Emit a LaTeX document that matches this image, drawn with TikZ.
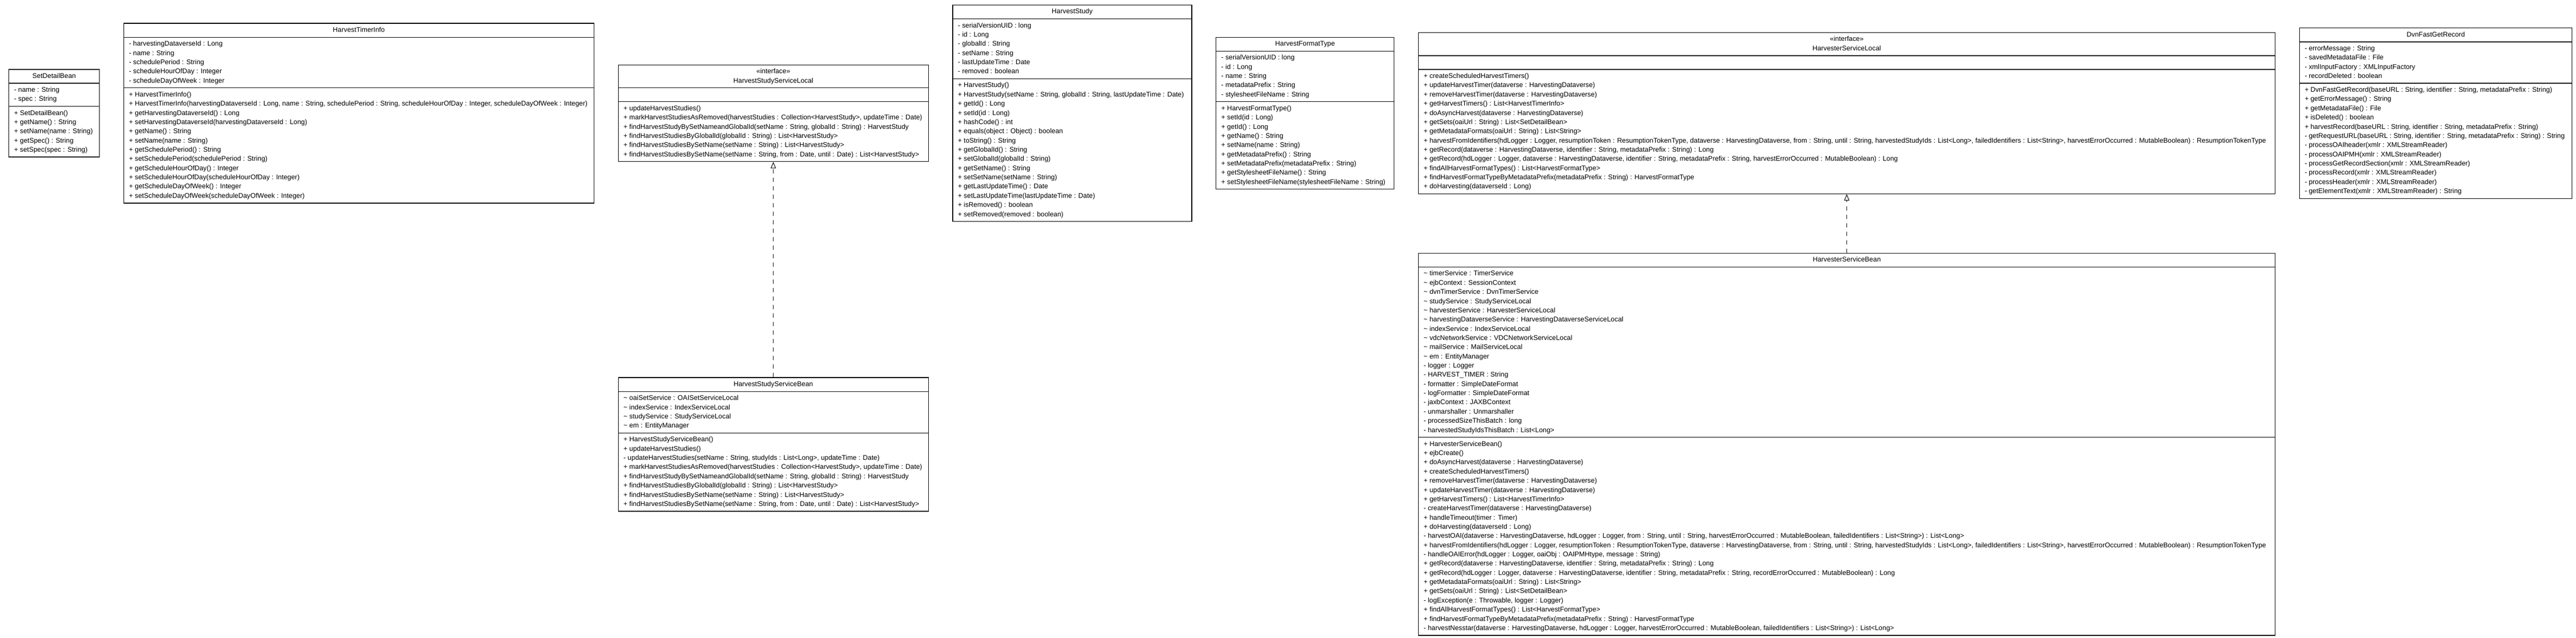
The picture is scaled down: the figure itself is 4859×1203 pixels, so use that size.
\documentclass[tikz,border=0pt]{standalone}
\usepackage{fontspec}
\setmainfont{Liberation Sans}
\usepackage{tikz}
\usetikzlibrary{shapes.multipart,arrows.meta,positioning}

\newcommand{\umltitle}[1]{\begin{tabular}{@{}c@{}}#1\end{tabular}}
\newcommand{\umlrows}[1]{\begin{tabular}{@{}l@{}}#1\end{tabular}}

\begin{document}
\begin{tikzpicture}[
    x=0.2mm, y=-0.2mm,
    node distance=8.9mm,
    umlclass/.style={rectangle split, rectangle split parts=3, rectangle split part align={center,left,left}, draw=black, line width=0.25mm, fill=white, inner xsep=2mm, inner ysep=0.75mm, font=\fontsize{7.3}{9.88}\selectfont},
    realize/.style={draw, line width=0.2mm, dash pattern=on 1.6mm off 1.6mm, -{Triangle[open, length=2.4mm, width=2mm]}}
]
\path[fill=white, use as bounding box] (0,0) rectangle (4859,1203);

% SetDetailBean
\node [umlclass, minimum width=34.2mm, anchor=west] (setdetail) at (16,213.5) {\umltitle{SetDetailBean}
\nodepart{second}\umlrows{- name : String\\- spec : String}
\nodepart{third}\umlrows{+ SetDetailBean()\\+ getName() : String\\+ setName(name : String)\\+ getSpec() : String\\+ setSpec(spec : String)}};

% HarvestTimerInfo
\node [umlclass, minimum width=177.4mm, right=of setdetail] (timerinfo) {\umltitle{HarvestTimerInfo}
\nodepart{second}\umlrows{- harvestingDataverseId : Long\\- name : String\\- schedulePeriod : String\\- scheduleHourOfDay : Integer\\- scheduleDayOfWeek : Integer}
\nodepart{third}\umlrows{+ HarvestTimerInfo()\\
+ HarvestTimerInfo(harvestingDataverseId : Long, name : String, schedulePeriod : String, scheduleHourOfDay : Integer, scheduleDayOfWeek : Integer)\\
+ getHarvestingDataverseId() : Long\\
+ setHarvestingDataverseId(harvestingDataverseId : Long)\\
+ getName() : String\\
+ setName(name : String)\\
+ getSchedulePeriod() : String\\
+ setSchedulePeriod(schedulePeriod : String)\\
+ getScheduleHourOfDay() : Integer\\
+ setScheduleHourOfDay(scheduleHourOfDay : Integer)\\
+ getScheduleDayOfWeek() : Integer\\
+ setScheduleDayOfWeek(scheduleDayOfWeek : Integer)}};

% HarvestStudyServiceLocal
\node [umlclass, minimum width=117mm, right=of timerinfo] (studylocal) {\umltitle{«interface»\\HarvestStudyServiceLocal}
\nodepart{second}\strut
\nodepart{third}\umlrows{+ updateHarvestStudies()\\
+ markHarvestStudiesAsRemoved(harvestStudies : Collection<HarvestStudy>, updateTime : Date)\\
+ findHarvestStudyBySetNameandGlobalId(setName : String, globalId : String) : HarvestStudy\\
+ findHarvestStudiesByGlobalId(globalId : String) : List<HarvestStudy>\\
+ findHarvestStudiesBySetName(setName : String) : List<HarvestStudy>\\
+ findHarvestStudiesBySetName(setName : String, from : Date, until : Date) : List<HarvestStudy>}};

% HarvestStudy
\node [umlclass, minimum width=90.2mm, right=of studylocal] (study) {\umltitle{HarvestStudy}
\nodepart{second}\umlrows{- serialVersionUID : long\\- id : Long\\- globalId : String\\- setName : String\\- lastUpdateTime : Date\\- removed : boolean}
\nodepart{third}\umlrows{+ HarvestStudy()\\
+ HarvestStudy(setName : String, globalId : String, lastUpdateTime : Date)\\
+ getId() : Long\\
+ setId(id : Long)\\
+ hashCode() : int\\
+ equals(object : Object) : boolean\\
+ toString() : String\\
+ getGlobalId() : String\\
+ setGlobalId(globalId : String)\\
+ getSetName() : String\\
+ setSetName(setName : String)\\
+ getLastUpdateTime() : Date\\
+ setLastUpdateTime(lastUpdateTime : Date)\\
+ isRemoved() : boolean\\
+ setRemoved(removed : boolean)}};

% HarvestFormatType
\node [umlclass, minimum width=67.2mm, right=of study] (formattype) {\umltitle{HarvestFormatType}
\nodepart{second}\umlrows{- serialVersionUID : long\\- id : Long\\- name : String\\- metadataPrefix : String\\- stylesheetFileName : String}
\nodepart{third}\umlrows{+ HarvestFormatType()\\
+ setId(id : Long)\\
+ getId() : Long\\
+ getName() : String\\
+ setName(name : String)\\
+ getMetadataPrefix() : String\\
+ setMetadataPrefix(metadataPrefix : String)\\
+ getStylesheetFileName() : String\\
+ setStylesheetFileName(stylesheetFileName : String)}};

% HarvesterServiceLocal
\node [umlclass, minimum width=323.2mm, right=of formattype] (harvlocal) {\umltitle{«interface»\\HarvesterServiceLocal}
\nodepart{second}\strut
\nodepart{third}\umlrows{+ createScheduledHarvestTimers()\\
+ updateHarvestTimer(dataverse : HarvestingDataverse)\\
+ removeHarvestTimer(dataverse : HarvestingDataverse)\\
+ getHarvestTimers() : List<HarvestTimerInfo>\\
+ doAsyncHarvest(dataverse : HarvestingDataverse)\\
+ getSets(oaiUrl : String) : List<SetDetailBean>\\
+ getMetadataFormats(oaiUrl : String) : List<String>\\
+ harvestFromIdentifiers(hdLogger : Logger, resumptionToken : ResumptionTokenType, dataverse : HarvestingDataverse, from : String, until : String, harvestedStudyIds : List<Long>, failedIdentifiers : List<String>, harvestErrorOccurred : MutableBoolean) : ResumptionTokenType\\
+ getRecord(dataverse : HarvestingDataverse, identifier : String, metadataPrefix : String) : Long\\
+ getRecord(hdLogger : Logger, dataverse : HarvestingDataverse, identifier : String, metadataPrefix : String, harvestErrorOccurred : MutableBoolean) : Long\\
+ findAllHarvestFormatTypes() : List<HarvestFormatType>\\
+ findHarvestFormatTypeByMetadataPrefix(metadataPrefix : String) : HarvestFormatType\\
+ doHarvesting(dataverseId : Long)}};

% DvnFastGetRecord
\node [umlclass, minimum width=102.9mm, right=of harvlocal] (fastget) {\umltitle{DvnFastGetRecord}
\nodepart{second}\umlrows{- errorMessage : String\\- savedMetadataFile : File\\- xmlInputFactory : XMLInputFactory\\- recordDeleted : boolean}
\nodepart{third}\umlrows{+ DvnFastGetRecord(baseURL : String, identifier : String, metadataPrefix : String)\\
+ getErrorMessage() : String\\
+ getMetadataFile() : File\\
+ isDeleted() : boolean\\
+ harvestRecord(baseURL : String, identifier : String, metadataPrefix : String)\\
- getRequestURL(baseURL : String, identifier : String, metadataPrefix : String) : String\\
- processOAIheader(xmlr : XMLStreamReader)\\
- processOAIPMH(xmlr : XMLStreamReader)\\
- processGetRecordSection(xmlr : XMLStreamReader)\\
- processRecord(xmlr : XMLStreamReader)\\
- processHeader(xmlr : XMLStreamReader)\\
- getElementText(xmlr : XMLStreamReader) : String}};

% HarvestStudyServiceBean
\node [umlclass, minimum width=117mm, below=81.2mm of studylocal] (studybean) {\umltitle{HarvestStudyServiceBean}
\nodepart{second}\umlrows{\textasciitilde{} oaiSetService : OAISetServiceLocal\\\textasciitilde{} indexService : IndexServiceLocal\\\textasciitilde{} studyService : StudyServiceLocal\\\textasciitilde{} em : EntityManager}
\nodepart{third}\umlrows{+ HarvestStudyServiceBean()\\
+ updateHarvestStudies()\\
- updateHarvestStudies(setName : String, studyIds : List<Long>, updateTime : Date)\\
+ markHarvestStudiesAsRemoved(harvestStudies : Collection<HarvestStudy>, updateTime : Date)\\
+ findHarvestStudyBySetNameandGlobalId(setName : String, globalId : String) : HarvestStudy\\
+ findHarvestStudiesByGlobalId(globalId : String) : List<HarvestStudy>\\
+ findHarvestStudiesBySetName(setName : String) : List<HarvestStudy>\\
+ findHarvestStudiesBySetName(setName : String, from : Date, until : Date) : List<HarvestStudy>}};

% HarvesterServiceBean
\node [umlclass, minimum width=323.2mm, below=22.1mm of harvlocal] (harvbean) {\umltitle{HarvesterServiceBean}
\nodepart{second}\umlrows{\textasciitilde{} timerService : TimerService\\
\textasciitilde{} ejbContext : SessionContext\\
\textasciitilde{} dvnTimerService : DvnTimerService\\
\textasciitilde{} studyService : StudyServiceLocal\\
\textasciitilde{} harvesterService : HarvesterServiceLocal\\
\textasciitilde{} harvestingDataverseService : HarvestingDataverseServiceLocal\\
\textasciitilde{} indexService : IndexServiceLocal\\
\textasciitilde{} vdcNetworkService : VDCNetworkServiceLocal\\
\textasciitilde{} mailService : MailServiceLocal\\
\textasciitilde{} em : EntityManager\\
- logger : Logger\\
- HARVEST\_TIMER : String\\
- formatter : SimpleDateFormat\\
- logFormatter : SimpleDateFormat\\
- jaxbContext : JAXBContext\\
- unmarshaller : Unmarshaller\\
- processedSizeThisBatch : long\\
- harvestedStudyIdsThisBatch : List<Long>}
\nodepart{third}\umlrows{+ HarvesterServiceBean()\\
+ ejbCreate()\\
+ doAsyncHarvest(dataverse : HarvestingDataverse)\\
+ createScheduledHarvestTimers()\\
+ removeHarvestTimer(dataverse : HarvestingDataverse)\\
+ updateHarvestTimer(dataverse : HarvestingDataverse)\\
+ getHarvestTimers() : List<HarvestTimerInfo>\\
- createHarvestTimer(dataverse : HarvestingDataverse)\\
+ handleTimeout(timer : Timer)\\
+ doHarvesting(dataverseId : Long)\\
- harvestOAI(dataverse : HarvestingDataverse, hdLogger : Logger, from : String, until : String, harvestErrorOccurred : MutableBoolean, failedIdentifiers : List<String>) : List<Long>\\
+ harvestFromIdentifiers(hdLogger : Logger, resumptionToken : ResumptionTokenType, dataverse : HarvestingDataverse, from : String, until : String, harvestedStudyIds : List<Long>, failedIdentifiers : List<String>, harvestErrorOccurred : MutableBoolean) : ResumptionTokenType\\
- handleOAIError(hdLogger : Logger, oaiObj : OAIPMHtype, message : String)\\
+ getRecord(dataverse : HarvestingDataverse, identifier : String, metadataPrefix : String) : Long\\
+ getRecord(hdLogger : Logger, dataverse : HarvestingDataverse, identifier : String, metadataPrefix : String, recordErrorOccurred : MutableBoolean) : Long\\
+ getMetadataFormats(oaiUrl : String) : List<String>\\
+ getSets(oaiUrl : String) : List<SetDetailBean>\\
- logException(e : Throwable, logger : Logger)\\
+ findAllHarvestFormatTypes() : List<HarvestFormatType>\\
+ findHarvestFormatTypeByMetadataPrefix(metadataPrefix : String) : HarvestFormatType\\
- harvestNesstar(dataverse : HarvestingDataverse, hdLogger : Logger, harvestErrorOccurred : MutableBoolean, failedIdentifiers : List<String>) : List<Long>}};

% Connections
\path [realize] (studybean) -- (studylocal);
\path [realize] (harvbean) -- (harvlocal);

\end{tikzpicture}
\end{document}
